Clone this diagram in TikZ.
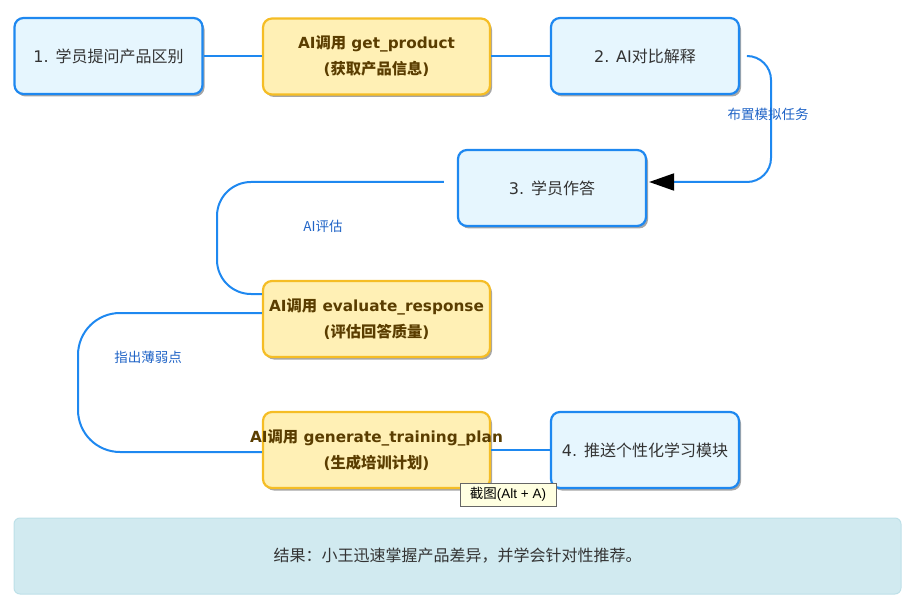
\documentclass[tikz,border=0pt]{standalone}
\usepackage{fontspec}
\setmainfont{DejaVu Sans}
\newfontfamily\cjk{Noto Sans CJK SC}
\newfontfamily\tipfont{Liberation Sans}
\usetikzlibrary{arrows.meta,shadows}
\definecolor{bborder}{HTML}{1E88F0}
\definecolor{bfill}{HTML}{E6F6FE}
\definecolor{yborder}{HTML}{F5BD25}
\definecolor{yfill}{HTML}{FFF0B5}
\definecolor{ytext}{HTML}{5A3D00}
\definecolor{ltext}{HTML}{1F63C6}
\definecolor{rfill}{HTML}{D1EAF0}
\definecolor{rborder}{HTML}{BDE0E8}
\definecolor{dtext}{HTML}{333333}
\definecolor{tipfill}{HTML}{FFFFE1}
\newcommand{\ctr}[1]{\makebox[0pt][c]{#1}}
\tikzset{
  boxshadow/.style={drop shadow={shadow xshift=2pt,shadow yshift=-2.5pt,opacity=.35,fill=black}},
  bluebox/.style={draw=bborder,fill=bfill,line width=2.2pt,rounded corners=9pt,
    minimum width=188pt,minimum height=76pt,inner sep=0pt,text=dtext,
    font=\fontsize{16}{26}\selectfont,boxshadow},
  yellowbox/.style={draw=yborder,fill=yfill,line width=2.2pt,rounded corners=9pt,
    minimum width=227pt,minimum height=76pt,inner sep=0pt,text=ytext,align=center,
    font=\fontsize{15.3}{26}\selectfont\bfseries,boxshadow},
  conn/.style={draw=bborder,line width=2pt},
  edgelabel/.style={text=ltext,font=\fontsize{13.5}{16}\selectfont\cjk,inner sep=0pt},
}
\begin{document}
\begin{tikzpicture}[x=1pt,y=-1pt]
\useasboundingbox (0,0) rectangle (917,609);
% nodes
\node[bluebox] (b1) at (108.5,56) {1. {\cjk 学员提问产品区别}};
\node[yellowbox] (get) at (376.5,56.5) {\ctr{AI{\cjk 调用} get\_product}\\\ctr{({\cjk 获取产品信息})}};
\node[bluebox] (b2) at (645,56) {2. AI{\cjk 对比解释}};
\node[bluebox] (b3) at (552,188) {3. {\cjk 学员作答}};
\node[yellowbox] (eval) at (376.5,319) {\ctr{AI{\cjk 调用} evaluate\_response}\\\ctr{({\cjk 评估回答质量})}};
\node[yellowbox] (gen) at (376.5,450) {\ctr{AI{\cjk 调用} generate\_training\_plan}\\\ctr{({\cjk 生成培训计划})}};
\node[bluebox] (b4) at (645,450) {4. {\cjk 推送个性化学习模块}};
\node[draw=rborder,fill=rfill,line width=1pt,rounded corners=6pt,minimum width=887pt,
  minimum height=76pt,inner sep=0pt,text=dtext,font=\fontsize{16}{18}\selectfont\cjk]
  (res) at (457.5,556) {结果：小王迅速掌握产品差异，并学会针对性推荐。};
% connectors
\draw[conn] (b1.east) -- (b1.east -| get.west);
\draw[conn] (get.east |- b2.east) -- (b2.west);
\draw[conn,rounded corners=24pt,-{Triangle[length=25pt,width=17pt,color=black]}]
  ([xshift=7pt]b2.east) -- (771,56) |- ([xshift=2pt,yshift=6pt]b3.east);
\draw[conn,rounded corners=34pt] ([xshift=-13pt,yshift=6pt]b3.west) -- (217,182) |- ([yshift=25pt]eval.west);
\draw[conn,rounded corners=42pt] ([yshift=6pt]eval.west) -- (78,313) |- ([yshift=-2pt]gen.west);
\draw[conn] (gen.east) -- (gen.east -| b4.west);
% labels
\node[edgelabel] (l1) at (768,114) {布置模拟任务};
\node[edgelabel] (l2) at (323,226) {AI评估};
\node[edgelabel] (l3) at (148,357) {指出薄弱点};
% tooltip
\node[draw=black!60,fill=tipfill,line width=0.8pt,minimum width=96pt,minimum height=23pt,
  inner sep=0pt,font=\fontsize{13.5}{16}\selectfont\tipfont] (tip) at (508,494.5)
  {{\cjk 截图}(Alt + A)};
\end{tikzpicture}
\end{document}
